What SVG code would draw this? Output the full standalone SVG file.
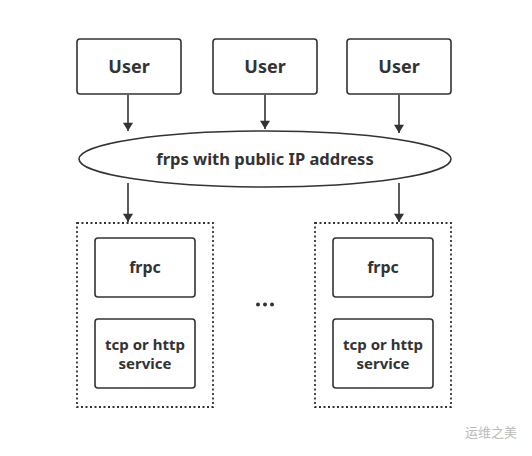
<svg xmlns="http://www.w3.org/2000/svg" width="532" height="456" viewBox="0 0 532 456">
<defs>
<marker id="ah" viewBox="0 0 10 12" refX="10" refY="6" markerWidth="12" markerHeight="10" markerUnits="userSpaceOnUse" orient="auto"><path d="M0,0 L10,6 L0,12 z" fill="#333"/></marker>
<style>
.box{fill:#fff;stroke:#333;stroke-width:1.6}
.dot{fill:none;stroke:#333;stroke-width:1.8;stroke-dasharray:2 2.5}
.t{font-family:"Noto Sans","Open Sans",sans-serif;font-weight:bold;fill:#333;text-anchor:middle}
.c{stroke:#333;stroke-width:1.6;fill:none;marker-end:url(#ah)}
</style>
</defs>
<rect width="532" height="456" fill="#fff"/>
<g id="connectors">
<line class="c" x1="128" y1="95" x2="128" y2="131"/>
<line class="c" x1="265" y1="95" x2="265" y2="129"/>
<line class="c" x1="399" y1="95" x2="399" y2="133"/>
<line class="c" x1="128" y1="183" x2="128" y2="222"/>
<line class="c" x1="399" y1="183" x2="399" y2="222"/>
</g>
<g id="user1"><rect class="box" x="77" y="39" width="104" height="55" rx="3"/><text class="t" x="129" y="73" font-size="18">User</text></g>
<g id="user2"><rect class="box" x="213" y="39" width="104" height="55" rx="3"/><text class="t" x="265" y="73" font-size="18">User</text></g>
<g id="user3"><rect class="box" x="347" y="39" width="104" height="55" rx="3"/><text class="t" x="399" y="73" font-size="18">User</text></g>
<g id="frps"><ellipse class="box" cx="265" cy="159" rx="186" ry="28"/><text class="t" x="265" y="165" font-size="16.5">frps with public IP address</text></g>
<g id="group1"><rect class="dot" x="77" y="223" width="136" height="184"/></g>
<g id="group2"><rect class="dot" x="315" y="223" width="136" height="184"/></g>
<g id="frpc1"><rect class="box" x="95" y="238" width="100" height="59" rx="3"/><text class="t" x="145" y="273" font-size="16">frpc</text></g>
<g id="svc1"><rect class="box" x="95" y="319" width="100" height="69" rx="3"/><text class="t" x="145" y="350" font-size="15">tcp or http</text><text class="t" x="145" y="369" font-size="15">service</text></g>
<g id="frpc2"><rect class="box" x="333" y="238" width="100" height="59" rx="3"/><text class="t" x="383" y="273" font-size="16">frpc</text></g>
<g id="svc2"><rect class="box" x="333" y="319" width="100" height="69" rx="3"/><text class="t" x="383" y="350" font-size="15">tcp or http</text><text class="t" x="383" y="369" font-size="15">service</text></g>
<g id="ellipsis"><circle cx="258" cy="304.5" r="2" fill="#333"/><circle cx="265" cy="304.5" r="2" fill="#333"/><circle cx="272" cy="304.5" r="2" fill="#333"/></g>
<g id="watermark"><text x="465" y="437" font-family="Noto Sans CJK SC,sans-serif" font-size="13" fill="#bbb">运维之美</text></g>
</svg>
